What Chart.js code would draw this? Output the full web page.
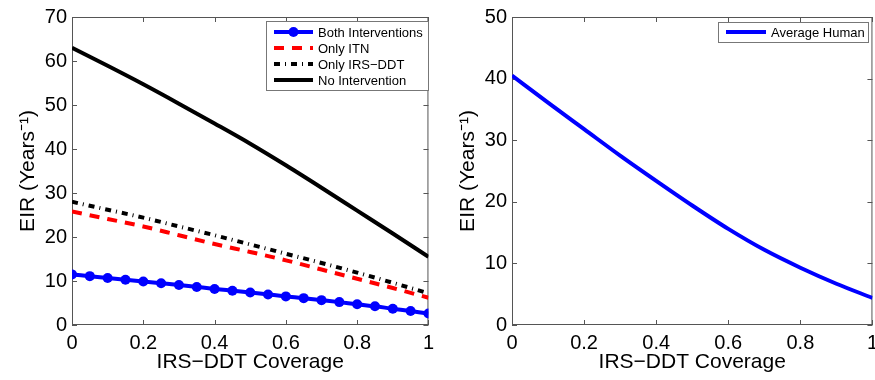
<!DOCTYPE html>
<html>
<head>
<meta charset="utf-8">
<script src="https://cdn.jsdelivr.net/npm/chart.js@4.4.1/dist/chart.umd.min.js"></script>
<style>
  html, body { margin: 0; padding: 0; background: #fff; overflow: hidden; width: 875px; height: 380px; }
  #left { position: absolute; left: 0; top: 0; }
  #right { position: absolute; left: 440px; top: 0; }
</style>
</head>
<body>
<canvas id="left" width="440" height="380"></canvas>
<canvas id="right" width="444" height="380"></canvas>
<script>
// coverage values
const coverageFine = [0, 0.05, 0.1, 0.15, 0.2, 0.25, 0.3, 0.35, 0.4, 0.45, 0.5,
                      0.55, 0.6, 0.65, 0.7, 0.75, 0.8, 0.85, 0.9, 0.95, 1];
const coverage = [0, 0.1, 0.2, 0.3, 0.4, 0.5, 0.6, 0.7, 0.8, 0.9, 1];

// left panel series (EIR, years^-1)
const bothInterventions = [11.5, 11.1, 10.7, 10.3, 9.9, 9.5, 9.1, 8.65, 8.2, 7.8, 7.4,
                           6.95, 6.5, 6.1, 5.65, 5.2, 4.7, 4.25, 3.7, 3.2, 2.6];
const onlyITN = [25.8, 24.1, 22.4, 20.4, 18.4, 16.6, 14.7, 12.6, 10.5, 8.4, 6.2];
const onlyIRS = [28.0, 26.2, 24.4, 22.4, 20.4, 18.3, 16.2, 14.1, 11.9, 9.6, 7.2];
const noIntervention = [63.0, 58.9, 54.7, 50.3, 45.8, 41.2, 36.3, 31.2, 26.0, 20.8, 15.5];

// right panel series
const averageHuman = [40.5, 36.1, 31.8, 27.5, 23.4, 19.4, 15.6, 12.2, 9.3, 6.7, 4.4];

const xLabel = 'IRS\u2212DDT Coverage';
const yLabel = 'EIR (Years\u207B\u00B9)';

const FONT = 'Liberation Sans, Arial, sans-serif';
Chart.defaults.font.family = FONT;
Chart.defaults.color = '#000';

function pts(xs, ys) {
  return xs.map((x, i) => ({ x: x, y: ys[i] }));
}

// MATLAB style box with inward ticks
const boxPlugin = {
  id: 'matlabBox',
  beforeDatasetsDraw(chart) {
    const ctx = chart.ctx;
    const a = chart.chartArea;
    const xs = chart.scales.x, ys = chart.scales.y;
    ctx.save();
    ctx.strokeStyle = '#555';
    ctx.lineWidth = 1;
    ctx.strokeRect(a.left + 0.5, a.top + 0.5, a.right - a.left - 1, a.bottom - a.top - 1);
    ctx.beginPath();
    xs.ticks.forEach(t => {
      const px = Math.round(xs.getPixelForValue(t.value)) + 0.5;
      ctx.moveTo(px, a.bottom); ctx.lineTo(px, a.bottom - 5);
      ctx.moveTo(px, a.top); ctx.lineTo(px, a.top + 5);
    });
    ys.ticks.forEach(t => {
      const py = Math.round(ys.getPixelForValue(t.value)) + 0.5;
      ctx.moveTo(a.left, py); ctx.lineTo(a.left + 5, py);
      ctx.moveTo(a.right, py); ctx.lineTo(a.right - 5, py);
    });
    ctx.stroke();
    ctx.restore();
  }
};

// legend box drawn inside the plot
const boxLegend = {
  id: 'boxLegend',
  afterDraw(chart, args, opts) {
    const ctx = chart.ctx;
    const b = opts.box;
    ctx.save();
    ctx.fillStyle = '#fff';
    ctx.fillRect(b.x, b.y, b.w, b.h);
    ctx.strokeStyle = '#777';
    ctx.lineWidth = 1;
    ctx.strokeRect(b.x + 0.5, b.y + 0.5, b.w, b.h);
    ctx.font = '13px ' + FONT;
    ctx.textBaseline = 'middle';
    chart.data.datasets.forEach((ds, i) => {
      const y = b.y + opts.firstRow + i * opts.rowGap;
      const x0 = b.x + opts.sampleStart, x1 = x0 + opts.sampleLen;
      ctx.strokeStyle = ds.borderColor;
      ctx.lineWidth = ds.borderWidth;
      ctx.setLineDash(ds.borderDash || []);
      ctx.beginPath();
      ctx.moveTo(x0, y); ctx.lineTo(x1, y);
      ctx.stroke();
      ctx.setLineDash([]);
      if (ds.pointRadius > 0) {
        ctx.fillStyle = ds.borderColor;
        ctx.beginPath();
        ctx.arc((x0 + x1) / 2, y, ds.pointRadius, 0, Math.PI * 2);
        ctx.fill();
      }
      ctx.fillStyle = '#000';
      ctx.fillText(ds.label, x1 + 5, y + 1);
    });
    ctx.restore();
  }
};

function makeScales(yMax) {
  return {
    x: {
      type: 'linear', min: 0, max: 1,
      grid: { display: false, drawTicks: false },
      border: { display: false },
      ticks: { stepSize: 0.2, padding: 6, font: { size: 20 }, color: '#000', maxRotation: 0,
               callback: v => String(Math.round(v * 10) / 10) },
      title: { display: true, text: xLabel, font: { size: 21 }, color: '#000', padding: { top: 0, bottom: 5 } },
      afterFit(s) { s.height = 55; }
    },
    y: {
      min: 0, max: yMax,
      grid: { display: false, drawTicks: false },
      border: { display: false },
      ticks: { stepSize: 10, padding: 5, font: { size: 20 }, color: '#000' },
      title: { display: true, text: yLabel, font: { size: 21 }, color: '#000', padding: { top: 16, bottom: 0 } },
      afterFit(s) { s.width = 72; }
    }
  };
}

const lineBase = { pointRadius: 0, fill: false, cubicInterpolationMode: 'monotone' };

new Chart(document.getElementById('left'), {
  type: 'line',
  data: {
    datasets: [
      { ...lineBase, label: 'Both Interventions', data: pts(coverageFine, bothInterventions),
        borderColor: '#0000ff', backgroundColor: '#0000ff', borderWidth: 4,
        pointRadius: 5, pointBorderWidth: 0, pointBackgroundColor: '#0000ff' },
      { ...lineBase, label: 'Only ITN', data: pts(coverage, onlyITN),
        borderColor: '#ff0000', borderWidth: 4, borderDash: [10, 8] },
      { ...lineBase, label: 'Only IRS\u2212DDT', data: pts(coverage, onlyIRS),
        borderColor: '#000', borderWidth: 4, borderDash: [6, 5, 1, 5] },
      { ...lineBase, label: 'No Intervention', data: pts(coverage, noIntervention),
        borderColor: '#000', borderWidth: 4 }
    ]
  },
  options: {
    responsive: false, animation: false, devicePixelRatio: 1,
    layout: { padding: { top: 15, right: 6, left: 0, bottom: 0 } },
    scales: makeScales(70),
    plugins: {
      legend: { display: false }, tooltip: { enabled: false },
      boxLegend: { box: { x: 266, y: 21, w: 162, h: 69 }, firstRow: 11, rowGap: 16, sampleStart: 8, sampleLen: 39 }
    }
  },
  plugins: [boxPlugin, boxLegend]
});

new Chart(document.getElementById('right'), {
  type: 'line',
  data: {
    datasets: [
      { ...lineBase, label: 'Average Human', data: pts(coverage, averageHuman),
        borderColor: '#0000ff', borderWidth: 4 }
    ]
  },
  options: {
    responsive: false, animation: false, devicePixelRatio: 1,
    layout: { padding: { top: 15, right: 10, left: 0, bottom: 0 } },
    scales: makeScales(50),
    plugins: {
      legend: { display: false }, tooltip: { enabled: false },
      boxLegend: { box: { x: 278, y: 22, w: 150, h: 20 }, firstRow: 10, rowGap: 16, sampleStart: 8, sampleLen: 40 }
    }
  },
  plugins: [boxPlugin, boxLegend]
});
</script>
</body>
</html>
